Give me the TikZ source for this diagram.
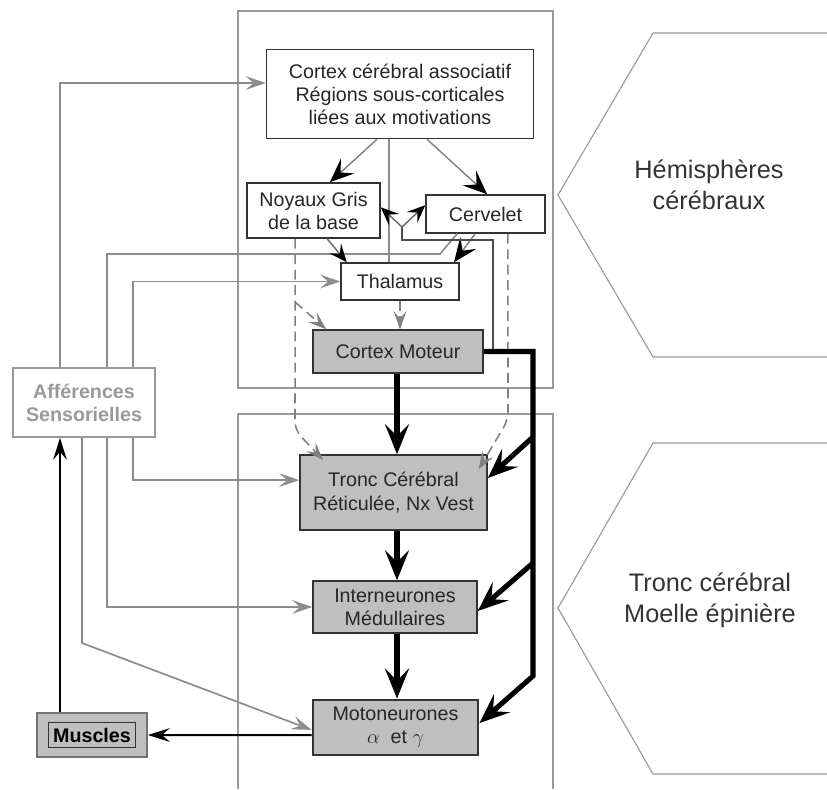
\documentclass[tikz,border=0pt]{standalone}
\usepackage{fontspec}
\setmainfont{Liberation Sans}
\usetikzlibrary{arrows.meta,positioning}

\begin{document}
\begin{tikzpicture}[
  x=0.025cm, y=-0.025cm,
  font=\fontsize{14}{16.4}\selectfont,
  area/.style={draw=black!40, line width=0.8pt},
  cell/.style={draw=black!80, line width=1.1pt, fill=white, align=center,
               inner sep=0pt, text=black!85},
  motor/.style={cell, fill=black!25},
  sens/.style={draw=black!40, line width=1.1pt, fill=white, align=center,
               inner sep=0pt, text=black!40, font=\fontsize{14}{16.4}\selectfont\bfseries},
  zone/.style={align=center, text=black!80, font=\fontsize{18}{22}\selectfont},
  garr/.style={draw=black!45, line width=1.2pt, -{Stealth[length=5mm,width=3.4mm,inset=2mm]}},
  gline/.style={draw=black!45, line width=1.2pt},
  tarr/.style={draw=black!50, line width=1pt,
               -{Stealth[color=black,length=6mm,width=5mm,inset=2.4mm]}},
  farr/.style={draw=black!60, line width=1pt,
               -{Stealth[color=black,length=4.5mm,width=3.8mm,inset=1.8mm]}},
  tline/.style={draw=black!70, line width=1pt},
  barr/.style={line width=3.6pt, line join=miter,
               -{Stealth[length=7.5mm,width=6mm,inset=3mm]}},
  karr/.style={line width=1.4pt, -{Stealth[length=5.5mm,width=3.4mm,inset=2mm]}},
  darr/.style={draw=black!50, line width=1.1pt, dash pattern=on 7pt off 4pt,
               rounded corners=6pt, -{Stealth[length=4.5mm,width=3.2mm,inset=1.8mm]}}
]
\useasboundingbox (0,0) rectangle (827,789);
% --- regions ---
\draw[area] (238,11) rectangle (553,388);
\draw[area] (238,789) |- (553,414) -- (553,789);
\draw[area] (827,33) -- (653,33) -- (558,195) -- (653,357) -- (827,357);
\draw[area] (827,443) -- (653,443) -- (558,608) -- (653,774) -- (827,774);
\node[zone] (hem) at (709,185) {Hémisphères\\cérébraux};
\node[zone] (tme) at (710,600) {Tronc cérébral\\Moelle épinière};
% --- centres ---
\node[cell, minimum width=6.675cm, minimum height=2.225cm] (cca) at (400,94)
  {Cortex cérébral associatif\\Régions sous-corticales\\liées aux motivations};
\node[cell, minimum width=3.325cm, minimum height=1.375cm] (ngb) at (313.5,210.5) {Noyaux Gris\\de la base};
\node[cell, minimum width=2.975cm, minimum height=0.95cm] (cer) at (485.5,214) {Cervelet};
\node[cell, minimum width=2.95cm, minimum height=0.925cm] (tha) at (400,281.5) {Thalamus};
\node[motor, minimum width=4.25cm, minimum height=1.075cm] (cmo) at (398,351.5) {Cortex Moteur};
\node[motor, minimum width=4.675cm, minimum height=1.875cm] (tce) at (393.5,492.5) {Tronc Cérébral\\Réticulée, Nx Vest};
\node[motor, minimum width=4.1cm, minimum height=1.3cm] (inm) at (395,607) {Interneurones\\Médullaires};
\node[motor, line width=2pt, minimum width=4.125cm, minimum height=1.375cm] (mot) at (395.5,727.5)
  {Motoneurones\\$\alpha$~~et~$\gamma$};
\node[sens, minimum width=3.55cm, minimum height=1.725cm] (aff) at (84,402.5) {Afférences\\Sensorielles};
\node[motor, draw=black!55, minimum width=2.75cm, minimum height=1.1cm] (mus) at (92,735) {};
\node[motor, line width=0.9pt, text=black, font=\fontsize{14}{16.4}\selectfont\bfseries,
      minimum width=2.175cm, minimum height=0.625cm] (musl) at (mus) {Muscles};
% --- columns and bends ---
\coordinate (c60) at (60,0);
\coordinate (c82) at (82,0);
\coordinate (c107) at (107,0);
\coordinate (c133) at (133,0);
\coordinate (c397) at (397,0);
\coordinate (k1) at (440,254);
\coordinate (k2) at (82,643);
\coordinate (r1) at (533,437);
\coordinate (r2) at (533,563);
\coordinate (r3) at (533,676);
\coordinate (e0) at (493,351.5);
\coordinate (fork0) at (402,240);
\coordinate (fork) at (402,227);
\coordinate (d1) at (295,430);
\coordinate (d2) at (295,302);
\coordinate (d3) at (508,420);
% --- sensory afferents ---
\draw[garr] (aff.north -| c60) |- ([yshift=0.275cm]cca.west);
\draw[gline] (aff.north -| c107) |- (k1) -- ([xshift=-0.71cm]cer.south);
\draw[garr] (aff.north -| c133) |- (tha.west);
\draw[garr] (aff.south -| c133) |- ([yshift=0.31cm]tce.west);
\draw[garr] (aff.south -| c107) |- (inm.west);
\draw[garr] (aff.south -| c82) -- (k2) -- ([yshift=-0.06cm]mot.west);
\draw[karr] (mus.north -| c60) -- (aff.south -| c60);
\draw[karr] ([yshift=-0.19cm]mot.west) -- (mus.east);
% --- loops ---
\draw[tarr] ([xshift=-0.575cm]cca.south) -- ([xshift=0.41cm]ngb.north);
\draw[tarr] ([xshift=0.675cm]cca.south) -- ([xshift=0.04cm]cer.north);
\draw[gline] ([xshift=-0.275cm]tha.north) -- ([xshift=-0.275cm]cca.south);
\draw[tarr] ([xshift=-0.26cm]cer.south) -- ([xshift=1.35cm]tha.north);
\draw[farr] ([xshift=0.34cm]ngb.south) -- ([xshift=-1.33cm]tha.north);
\draw[tline] (e0) |- (fork0) -- (fork);
\draw[farr] (fork) -- ([yshift=0.08cm]ngb.east);
\draw[farr] (fork) -- ([yshift=0.22cm]cer.west);
\draw[darr] ([xshift=-0.46cm]ngb.south) -- (d1) -- ([xshift=0.6cm,yshift=-0.15cm]tce.north west);
\draw[darr] (d2) -- ([xshift=0.35cm]cmo.north west);
\draw[darr] ([xshift=0.56cm]cer.south) -- (d3) -- ([xshift=-0.23cm,yshift=-0.38cm]tce.north east);
\draw[darr] (tha.south) -- (tha.south |- cmo.north);
% --- motor pathway ---
\draw[barr] (cmo.south -| c397) -- (tce.north -| c397);
\draw[barr] (tce.south -| c397) -- (inm.north -| c397);
\draw[barr] (inm.south -| c397) -- (mot.north -| c397);
\draw[barr] (cmo.east) -| (r3) -- ([yshift=0.11cm]mot.east);
\draw[barr] (r1) -- ([yshift=0.36cm]tce.east);
\draw[barr] (r2) -- ([yshift=-0.1cm]inm.east);
\end{tikzpicture}
\end{document}
